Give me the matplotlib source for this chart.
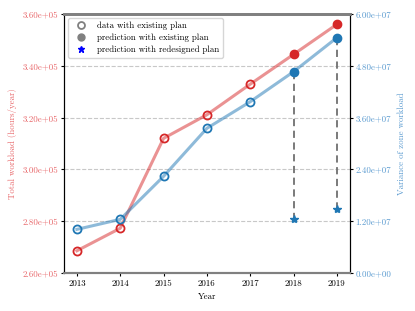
import numpy as np
import matplotlib
matplotlib.use('Agg')
import matplotlib.pyplot as plt
from matplotlib.lines import Line2D
from matplotlib.ticker import FormatStrFormatter

plt.rcParams['font.family'] = ['cmr10', 'DejaVu Serif']
plt.rcParams['mathtext.fontset'] = 'cm'
plt.rcParams['axes.unicode_minus'] = False

years = [2013, 2014, 2015, 2016, 2017, 2018, 2019]
workload = [2.686e5, 2.773e5, 3.120e5, 3.211e5, 3.329e5, 3.444e5, 3.560e5]
variance = [1.012e7, 1.244e7, 2.240e7, 3.352e7, 3.968e7, 4.663e7, 5.451e7]
n_data = 5  # first 5 years are data, the rest are predictions
redesign_years = [2018, 2019]
redesign_variance = [1.244e7, 1.483e7]

red = '#d62728'
blue = '#1f77b4'
red_txt = '#e8676a'
blue_txt = '#5b9bd0'
fs = 6.4

fig = plt.figure(figsize=(4.15, 3.11), dpi=100)
ax = fig.add_axes([0.154, 0.122, 0.689, 0.833])
ax2 = ax.twinx()

ax.plot(years, workload, color=red, alpha=0.5, lw=2.2, zorder=2)
ax.plot(years[:n_data], workload[:n_data], 'o', mfc='none', mec=red, mew=1.3, ms=5.8, zorder=3)
ax.plot(years[n_data:], workload[n_data:], 'o', color=red, ms=6, zorder=3)

ax2.plot(years, variance, color=blue, alpha=0.5, lw=2.2, zorder=2)
ax2.plot(years[:n_data], variance[:n_data], 'o', mfc='none', mec=blue, mew=1.3, ms=5.8, zorder=3)
ax2.plot(years[n_data:], variance[n_data:], 'o', color=blue, ms=6, zorder=3)
for yr, v0, v1 in zip(redesign_years, variance[n_data:], redesign_variance):
    ax2.plot([yr, yr], [v0, v1], '--', color='#707070', lw=1.3, dashes=(4, 2.5), zorder=1)
ax2.plot(redesign_years, redesign_variance, '*', color=blue, ms=6, zorder=3)

ax.set_ylim(2.6e5, 3.6e5)
ax.set_yticks(np.arange(2.6e5, 3.61e5, 0.2e5))
ax.yaxis.set_major_formatter(FormatStrFormatter('%.2e'))
ax2.set_ylim(0, 6e7)
ax2.set_yticks(np.arange(0, 6.01e7, 1.2e7))
ax2.yaxis.set_major_formatter(FormatStrFormatter('%.2e'))
ax.set_xticks(years)
ax.set_xticklabels([str(y) for y in years])

ax.grid(axis='y', ls='--', color='#c8c8c8', lw=0.8)
ax.set_axisbelow(True)

ax.tick_params(axis='y', colors=red_txt, labelsize=fs, length=2.2, pad=2)
ax.tick_params(axis='y', color='black')
ax2.tick_params(axis='y', colors=blue_txt, labelsize=fs, length=2.2, pad=2)
ax2.tick_params(axis='y', color='black')
ax.tick_params(axis='x', labelsize=fs, length=2.2, pad=2.5)
ax.set_ylabel('Total workload (hours/year)', color=red_txt, fontsize=fs, labelpad=4)
ax2.set_ylabel('Variance of zone workload', color=blue_txt, fontsize=fs, labelpad=4)
ax.set_xlabel('Year', fontsize=fs, labelpad=3)

for a in (ax, ax2):
    a.spines['top'].set_color('#808080')
    a.spines['top'].set_linewidth(2)
    a.spines['bottom'].set_color('#808080')
    a.spines['bottom'].set_linewidth(1.5)

handles = [
    Line2D([], [], ls='none', marker='o', mfc='none', mec='#808080', mew=1.3, ms=5),
    Line2D([], [], ls='none', marker='o', color='#808080', ms=5),
    Line2D([], [], ls='none', marker='*', color='blue', ms=5),
]
labels = ['data with existing plan', 'prediction with existing plan',
          'prediction with redesigned plan']
ax2.legend(handles, labels, loc='upper left', fontsize=fs, framealpha=0.8,
           handletextpad=0.8, borderpad=0.4, labelspacing=0.4)

fig.savefig('out.png', dpi=100)
